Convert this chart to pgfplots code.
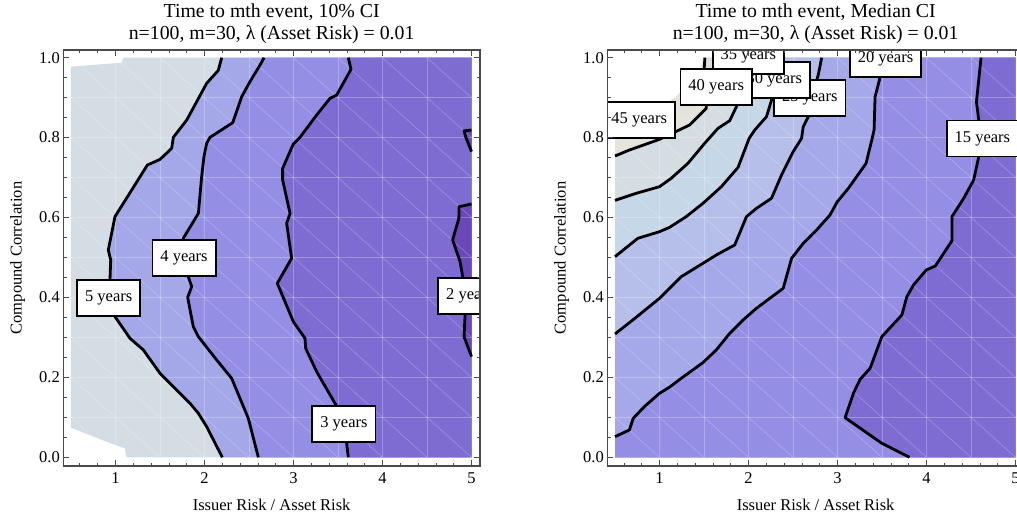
\documentclass[border=0pt]{standalone}
\usepackage{fontspec}
\setmainfont{Liberation Serif}
\usepackage{pgfplots}
\pgfplotsset{compat=1.18}

\definecolor{frameC}{HTML}{4A4A4A}
\definecolor{cA}{HTML}{6A48BA}
\definecolor{cB}{HTML}{7F6CD3}
\definecolor{cC}{HTML}{948EE5}
\definecolor{cD}{HTML}{A4A7E8}
\definecolor{cE}{HTML}{D3DDE3}
\definecolor{rA}{HTML}{7F6CD3}
\definecolor{rB}{HTML}{948EE5}
\definecolor{rC}{HTML}{A5A8E9}
\definecolor{rD}{HTML}{B5BFEA}
\definecolor{rE}{HTML}{C6D7E8}
\definecolor{rF}{HTML}{D4DDE2}
\definecolor{rG}{HTML}{E4E4DC}

\tikzset{
  lbl/.style={draw=black, fill=white, line width=1.8pt, font=\fontsize{16.5}{18}\selectfont,
    inner xsep=8pt, inner ysep=0pt, minimum height=36pt, text height=11.5pt, text depth=4pt},
}
\pgfplotsset{
  myaxis/.style={
    anchor=south west, scale only axis, width=416.7pt, height=416pt,
    xmin=0.4135, xmax=5.0955, ymin=-0.0218, ymax=1.0193,
    axis on top,
    xtick={1,2,3,4,5}, ytick={0,0.2,0.4,0.6,0.8,1.0},
    minor xtick={0.6,0.8,1.2,1.4,1.6,1.8,2.2,2.4,2.6,2.8,3.2,3.4,3.6,3.8,4.2,4.4,4.6,4.8},
    minor ytick={0.05,0.1,0.15,0.25,0.3,0.35,0.45,0.5,0.55,0.65,0.7,0.75,0.85,0.9,0.95},
    tick align=inside, major tick length=6pt, minor tick length=3.5pt,
    axis line style={draw=frameC, line width=1.1pt},
    tick style={frameC, line width=0.8pt},
    tick label style={font=\fontsize{16.5}{18}\selectfont, text=black},
    /pgf/number format/assume math mode=true,
    yticklabel style={/pgf/number format/.cd, fixed, fixed zerofill, precision=1},
    xticklabel style={anchor=base, yshift=-17.5pt},
    unbounded coords=jump,
  },
  cline/.style={black, line width=2.8pt, line join=round},
  meshln/.style={white, opacity=0.26, line width=0.6pt},
}

\newcommand{\meshlines}{%
  \addplot[meshln] coordinates {(1,0) (1,1) (nan,nan) (1.5,0) (1.5,1) (nan,nan) (2,0) (2,1) (nan,nan)
    (2.5,0) (2.5,1) (nan,nan) (3,0) (3,1) (nan,nan) (3.5,0) (3.5,1) (nan,nan) (4,0) (4,1) (nan,nan) (4.5,0) (4.5,1)};
  \addplot[meshln] coordinates {(0.5,0.1) (5,0.1) (nan,nan) (0.5,0.2) (5,0.2) (nan,nan) (0.5,0.3) (5,0.3) (nan,nan)
    (0.5,0.4) (5,0.4) (nan,nan) (0.5,0.5) (5,0.5) (nan,nan) (0.5,0.6) (5,0.6) (nan,nan) (0.5,0.7) (5,0.7) (nan,nan)
    (0.5,0.8) (5,0.8) (nan,nan) (0.5,0.9) (5,0.9)};
  \addplot[meshln] coordinates {(0.5,0.1) (1,0) (nan,nan) (0.5,0.2) (1.5,0) (nan,nan) (0.5,0.3) (2,0) (nan,nan)
    (0.5,0.4) (2.5,0) (nan,nan) (0.5,0.5) (3,0) (nan,nan) (0.5,0.6) (3.5,0) (nan,nan) (0.5,0.7) (4,0) (nan,nan)
    (0.5,0.8) (4.5,0) (nan,nan) (0.5,0.9) (5,0) (nan,nan) (0.5,1) (5,0.1) (nan,nan) (1,1) (5,0.2) (nan,nan)
    (1.5,1) (5,0.3) (nan,nan) (2,1) (5,0.4) (nan,nan) (2.5,1) (5,0.5) (nan,nan) (3,1) (5,0.6) (nan,nan)
    (3.5,1) (5,0.7) (nan,nan) (4,1) (5,0.8) (nan,nan) (4.5,1) (5,0.9)};
}

\begin{document}
\begin{tikzpicture}[trim right=1017pt]
\path (0,0) rectangle (1017pt,517pt);

% ---------------- left ----------------
\begin{axis}[myaxis, at={(63.3pt,51pt)}, name=L]
\addplot[fill=cE, draw=none] coordinates {(0.5,0.074) (0.5,0.9775) (1.069,0.9875) (1.088,1.0) (5,1) (5,0)
  (1.125,0) (1.10,0.0225) (0.83,0.045)} -- cycle;
\addplot[fill=cD, draw=none] coordinates {(2.193,1.0) (2.155,0.9683) (2.024,0.9358) (1.800,0.8440) (1.650,0.8007)
  (1.631,0.7731) (1.500,0.7456) (1.358,0.7314) (0.994,0.6022) (0.919,0.5188) (0.946,0.4937) (0.938,0.4437)
  (0.94,0.398) (0.994,0.352) (1.163,0.2977) (1.313,0.2686) (1.500,0.2102) (1.650,0.1768) (1.837,0.1351)
  (1.931,0.1101) (2.024,0.0767) (2.200,0.0) (5,0) (5,1)} -- cycle;
\addplot[fill=cC, draw=none] coordinates {(2.669,1.0) (2.624,0.9817) (2.511,0.940) (2.418,0.9024) (2.317,0.8374)
  (2.062,0.8007) (2.024,0.7857) (1.994,0.7523) (1.968,0.7023) (1.931,0.6105) (1.762,0.5480) (1.80,0.50)
  (1.818,0.4520) (1.856,0.4270) (1.811,0.4003) (1.874,0.3269) (1.931,0.3019) (2.137,0.2435) (2.305,0.1977)
  (2.492,0.0976) (2.605,0.0) (5,0) (5,1)} -- cycle;
\addplot[fill=cB, draw=none] coordinates {(3.616,1.0) (3.646,0.9708) (3.485,0.9066) (3.410,0.8982) (3.260,0.8566)
  (3.073,0.8007) (2.998,0.7840) (2.878,0.7231) (2.878,0.6939) (2.961,0.6105) (2.923,0.5855) (2.979,0.4979)
  (2.818,0.4354) (2.998,0.3394) (3.129,0.2977) (3.137,0.2727) (3.260,0.2143) (3.466,0.1351) (3.560,0.1018)
  (3.616,0.0) (5,0) (5,1)} -- cycle;
\addplot[fill=cA, draw=none] coordinates {(5.0,0.634) (4.86,0.627) (4.858,0.598) (4.788,0.544) (4.871,0.490)
  (4.908,0.444) (4.92,0.40) (4.927,0.352) (4.916,0.302) (5.0,0.252)} -- cycle;
\addplot[fill=cA, draw=none] coordinates {(5.0,0.819) (4.916,0.817) (4.938,0.80) (5.0,0.765)} -- cycle;

\meshlines

\addplot[cline] coordinates {(2.193,1.0) (2.155,0.9683) (2.024,0.9358) (1.800,0.8440) (1.650,0.8007)
  (1.631,0.7731) (1.500,0.7456) (1.358,0.7314) (0.994,0.6022) (0.919,0.5188) (0.946,0.4937) (0.938,0.4437)
  (0.94,0.398) (0.994,0.352) (1.163,0.2977) (1.313,0.2686) (1.500,0.2102) (1.650,0.1768) (1.837,0.1351)
  (1.931,0.1101) (2.024,0.0767) (2.200,0.0)};
\addplot[cline] coordinates {(2.669,1.0) (2.624,0.9817) (2.511,0.940) (2.418,0.9024) (2.317,0.8374)
  (2.062,0.8007) (2.024,0.7857) (1.994,0.7523) (1.968,0.7023) (1.931,0.6105) (1.762,0.5480) (1.80,0.50)
  (1.818,0.4520) (1.856,0.4270) (1.811,0.4003) (1.874,0.3269) (1.931,0.3019) (2.137,0.2435) (2.305,0.1977)
  (2.492,0.0976) (2.605,0.0)};
\addplot[cline] coordinates {(3.616,1.0) (3.646,0.9708) (3.485,0.9066) (3.410,0.8982) (3.260,0.8566)
  (3.073,0.8007) (2.998,0.7840) (2.878,0.7231) (2.878,0.6939) (2.961,0.6105) (2.923,0.5855) (2.979,0.4979)
  (2.818,0.4354) (2.998,0.3394) (3.129,0.2977) (3.137,0.2727) (3.260,0.2143) (3.466,0.1351) (3.560,0.1018)
  (3.616,0.0)};
\addplot[cline] coordinates {(5.0,0.634) (4.86,0.627) (4.858,0.598) (4.788,0.544) (4.871,0.490)
  (4.908,0.444) (4.92,0.40) (4.927,0.352) (4.916,0.302) (5.0,0.252)};
\addplot[cline] coordinates {(5.0,0.819) (4.916,0.817) (4.938,0.80) (5.0,0.765)};

\node[lbl] at (axis cs:4.98,0.404) {2 years};
\node[lbl] at (axis cs:3.567,0.0842) {3 years};
\node[lbl] at (axis cs:1.770,0.4988) {4 years};
\node[lbl] at (axis cs:0.923,0.3995) {5 years};
\end{axis}
\node[anchor=base, font=\fontsize{19.8}{22}\selectfont] at ([yshift=32.7pt]L.north) {Time to mth event, 10\% CI};
\node[anchor=base, font=\fontsize{19.8}{22}\selectfont] at ([yshift=10.7pt]L.north) {n=100, m=30, λ (Asset Risk) = 0.01};
\node[anchor=base, font=\fontsize{16.5}{18}\selectfont] at ([yshift=-44pt]L.south) {Issuer Risk / Asset Risk};
\node[rotate=90, anchor=base, font=\fontsize{16.5}{18}\selectfont] at ([xshift=-41.6pt]L.west) {Compound Correlation};

% ---------------- right ----------------
\begin{axis}[myaxis, at={(607.3pt,51pt)}, name=R]
\addplot[fill=rG, draw=none] coordinates {(0.5,0) (0.5,0.86) (1.0,0.875) (1.17,0.90) (1.35,0.94) (1.46,0.975)
  (1.49,1.0) (5,1) (5,0)} -- cycle;
\addplot[fill=rF, draw=none] coordinates {(0.5,0.754) (0.662,0.769) (1.0,0.7957) (1.338,0.8315) (1.526,0.8732)
  (1.52,0.93) (1.50,0.965) (1.51,1.0) (5,1) (5,0) (0.5,0)} -- cycle;
\addplot[fill=rE, draw=none] coordinates {(0.5,0.643) (0.737,0.6606) (1.0,0.6772) (1.131,0.6981) (1.319,0.7356)
  (1.507,0.7857) (1.657,0.8232) (1.789,0.8424) (1.864,0.8774) (1.95,0.93) (2.02,0.97) (2.05,1.0)
  (5,1) (5,0) (0.5,0)} -- cycle;
\addplot[fill=rD, draw=none] coordinates {(0.5,0.502) (0.756,0.5480) (1.0,0.5646) (1.113,0.5755) (1.300,0.6022)
  (1.488,0.6355) (1.695,0.6772) (1.883,0.7256) (2.007,0.7982) (2.070,0.8190) (2.202,0.8524) (2.259,0.894)
  (2.30,0.95) (2.32,1.0) (5,1) (5,0) (0.5,0)} -- cycle;
\addplot[fill=rC, draw=none] coordinates {(0.5,0.3086) (0.700,0.3436) (1.0,0.3978) (1.244,0.4520) (1.488,0.4854)
  (1.638,0.5063) (1.845,0.5313) (1.977,0.6022) (2.089,0.6230) (2.258,0.6481) (2.371,0.7064) (2.502,0.7648)
  (2.596,0.7982) (2.615,0.8274) (2.671,0.852) (2.709,0.902) (2.784,0.957) (2.822,1.0) (5,1) (5,0) (0.5,0)} -- cycle;
\addplot[fill=rB, draw=none] coordinates {(0.5,0.0517) (0.662,0.0684) (0.705,0.0976) (0.831,0.127) (1.0,0.1601)
  (1.12,0.1766) (1.244,0.1977) (1.488,0.2369) (1.638,0.2686) (1.789,0.3103) (1.939,0.3436) (2.089,0.3728)
  (2.239,0.3978) (2.390,0.4229) (2.484,0.4979) (2.615,0.5354) (2.765,0.5688) (2.915,0.6063) (2.998,0.6397)
  (3.122,0.6731) (3.321,0.7356) (3.385,0.7940) (3.411,0.8190) (3.422,0.9024) (3.471,0.9441) (3.498,1.0)
  (5,1) (5,0) (0.5,0)} -- cycle;
\addplot[fill=rA, draw=none] coordinates {(3.809,0) (3.498,0.035) (3.085,0.0992) (3.182,0.162) (3.254,0.195)
  (3.366,0.2227) (3.498,0.3019) (3.723,0.3561) (3.779,0.4020) (3.854,0.4312) (3.997,0.4687) (4.099,0.4787)
  (4.286,0.5421) (4.286,0.6022) (4.418,0.6481) (4.530,0.6939) (4.587,0.7523) (4.587,0.8440) (4.561,0.8899)
  (4.613,1.0) (5,1) (5,0)} -- cycle;

\meshlines

\addplot[cline] coordinates {(0.5,0.754) (0.662,0.769) (1.0,0.7957) (1.338,0.8315) (1.526,0.8732)
  (1.52,0.93) (1.50,0.965) (1.51,1.0)};
\addplot[cline] coordinates {(0.5,0.643) (0.737,0.6606) (1.0,0.6772) (1.131,0.6981) (1.319,0.7356)
  (1.507,0.7857) (1.657,0.8232) (1.789,0.8424) (1.864,0.8774) (1.95,0.93) (2.02,0.97) (2.05,1.0)};
\addplot[cline] coordinates {(0.5,0.502) (0.756,0.5480) (1.0,0.5646) (1.113,0.5755) (1.300,0.6022)
  (1.488,0.6355) (1.695,0.6772) (1.883,0.7256) (2.007,0.7982) (2.070,0.8190) (2.202,0.8524) (2.259,0.894)
  (2.30,0.95) (2.32,1.0)};
\addplot[cline] coordinates {(0.5,0.3086) (0.700,0.3436) (1.0,0.3978) (1.244,0.4520) (1.488,0.4854)
  (1.638,0.5063) (1.845,0.5313) (1.977,0.6022) (2.089,0.6230) (2.258,0.6481) (2.371,0.7064) (2.502,0.7648)
  (2.596,0.7982) (2.615,0.8274) (2.671,0.852) (2.709,0.902) (2.784,0.957) (2.822,1.0)};
\addplot[cline] coordinates {(0.5,0.0517) (0.662,0.0684) (0.705,0.0976) (0.831,0.127) (1.0,0.1601)
  (1.12,0.1766) (1.244,0.1977) (1.488,0.2369) (1.638,0.2686) (1.789,0.3103) (1.939,0.3436) (2.089,0.3728)
  (2.239,0.3978) (2.390,0.4229) (2.484,0.4979) (2.615,0.5354) (2.765,0.5688) (2.915,0.6063) (2.998,0.6397)
  (3.122,0.6731) (3.321,0.7356) (3.385,0.7940) (3.411,0.8190) (3.422,0.9024) (3.471,0.9441) (3.498,1.0)};
\addplot[cline] coordinates {(3.809,0) (3.498,0.035) (3.085,0.0992) (3.182,0.162) (3.254,0.195)
  (3.366,0.2227) (3.498,0.3019) (3.723,0.3561) (3.779,0.4020) (3.854,0.4312) (3.997,0.4687) (4.099,0.4787)
  (4.286,0.5421) (4.286,0.6022) (4.418,0.6481) (4.530,0.6939) (4.587,0.7523) (4.587,0.8440) (4.561,0.8899)
  (4.613,1.0)};

\node[lbl] at (axis cs:4.628,0.798) {15 years};
\node[lbl] at (axis cs:3.539,0.997) {20 years};
\node[lbl] at (axis cs:2.688,0.8987) {25 years};
\node[lbl] at (axis cs:2.29,0.944) {30 years};
\node[lbl] at (axis cs:1.999,1.005) {35 years};
\node[lbl] at (axis cs:1.637,0.927) {40 years};
\node[lbl] at (axis cs:0.772,0.845) {45 years};
\end{axis}
\node[anchor=base, font=\fontsize{19.8}{22}\selectfont] at ([yshift=32.7pt]R.north) {Time to mth event, Median CI};
\node[anchor=base, font=\fontsize{19.8}{22}\selectfont] at ([yshift=10.7pt]R.north) {n=100, m=30, λ (Asset Risk) = 0.01};
\node[anchor=base, font=\fontsize{16.5}{18}\selectfont] at ([yshift=-44pt]R.south) {Issuer Risk / Asset Risk};
\node[rotate=90, anchor=base, font=\fontsize{16.5}{18}\selectfont] at ([xshift=-41.6pt]R.west) {Compound Correlation};
\end{tikzpicture}
\end{document}
